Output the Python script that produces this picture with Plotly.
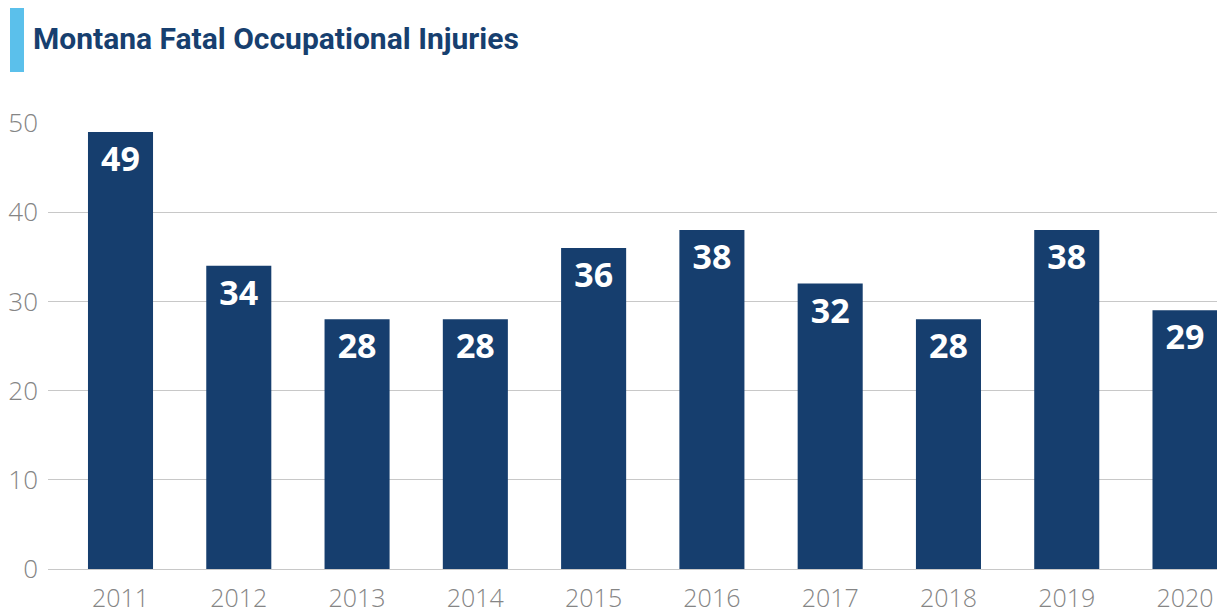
import plotly.graph_objects as go

years = ["2011", "2012", "2013", "2014", "2015", "2016", "2017", "2018", "2019", "2020"]
fatalities = [49, 34, 28, 28, 36, 38, 32, 28, 38, 29]
title_text = "Montana Fatal Occupational Injuries"

BAR = "#163e6e"
fig = go.Figure(go.Bar(
    x=years, y=fatalities,
    marker=dict(color=BAR, line=dict(width=0)),
    width=0.55,
    text=[str(v) for v in fatalities],
    textposition="inside",
    insidetextanchor="end",
    textfont=dict(family="Open Sans", size=34, color="white", weight="bold"),
    textangle=0,
    cliponaxis=False,
))

# page body has an 8px margin; figure is placed at (8, 8)
OFF = 8
W, H = 1225 - OFF, 613 - OFF
L, R, T = 48 - OFF, 0, 123 - OFF
B = H - (569 - OFF)
pw, ph = W - L - R, H - T - B

TICK = "#858585"
fig.update_layout(
    width=W, height=H,
    margin=dict(l=L, r=R, t=T, b=B, autoexpand=False),
    plot_bgcolor="white", paper_bgcolor="white",
    showlegend=False,
    xaxis=dict(
        type="category", automargin=False,
        range=[-0.613, 9.338],
        showgrid=False, zeroline=False, showline=False, ticks="",
        tickfont=dict(family="Open Sans", size=25, color=TICK, weight=300),
        ticklabelstandoff=12,
    ),
    yaxis=dict(
        automargin=False,
        range=[0, 50], tickvals=[0, 10, 20, 30, 40, 50],
        showgrid=True, gridcolor="#c8c8c8", gridwidth=1,
        zeroline=True, zerolinecolor="#c8c8c8", zerolinewidth=1,
        showline=False, ticks="",
        tickfont=dict(family="Open Sans", size=26, color=TICK, weight=300),
        ticklabelstandoff=9,
    ),
    shapes=[dict(type="rect", xref="paper", yref="paper",
                 x0=-(48 - 10) / pw, x1=-(48 - 24) / pw,
                 y0=1 + (123 - 72) / ph, y1=1 + (123 - 7) / ph,
                 fillcolor="#5bc0eb", line=dict(width=0))],
    annotations=[dict(text=title_text, xref="paper", yref="paper",
                      x=-(48 - 31) / pw, y=1 + (123 - 38) / ph, xanchor="left", yanchor="middle",
                      showarrow=False,
                      font=dict(family="Roboto", size=30, color="#173f6f", weight="bold"))],
)

fig.write_html("out.html")
